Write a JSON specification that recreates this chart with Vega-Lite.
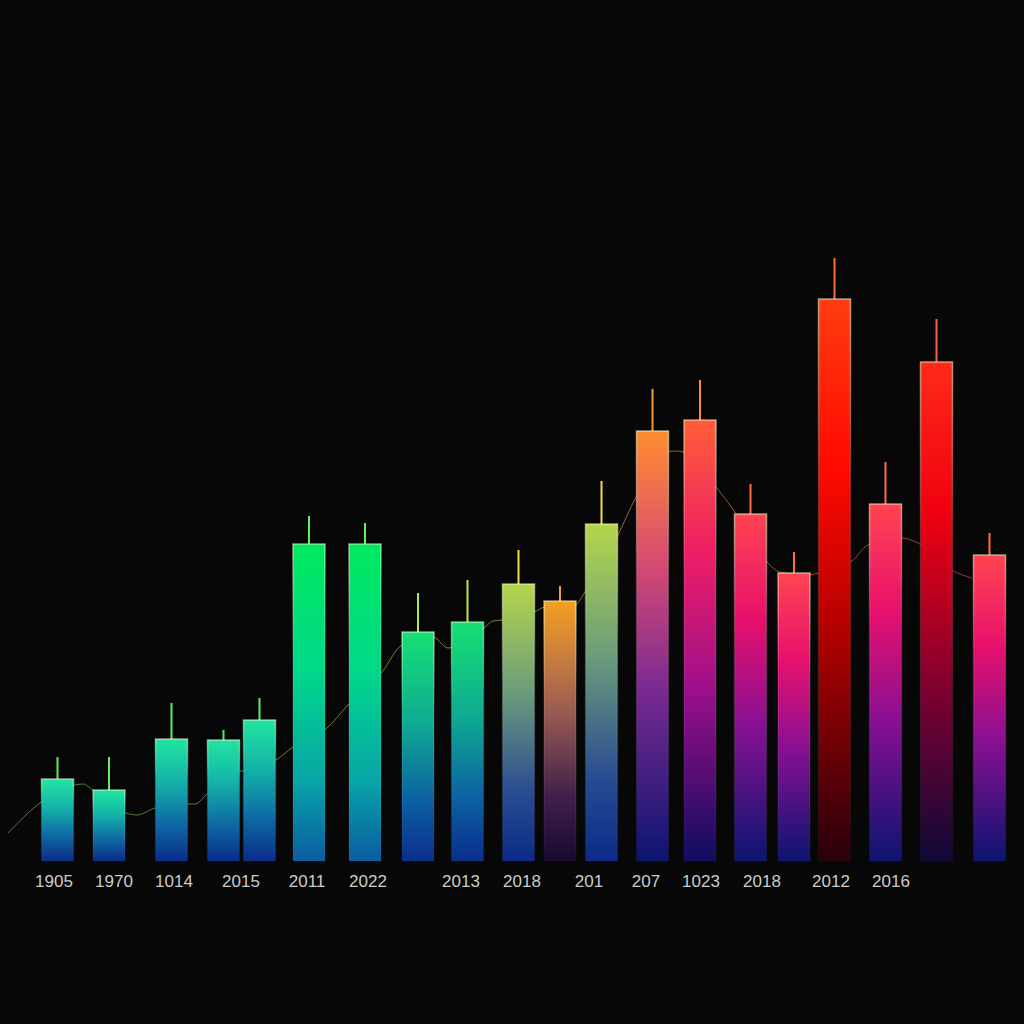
{
  "$schema": "https://vega.github.io/schema/vega-lite/v6.json",
  "width": 1024,
  "height": 1024,
  "padding": 0,
  "autosize": {"type": "none"},
  "background": "#070707",
  "config": {"view": {"stroke": null}},
  "datasets": {
    "bars": [
      {"pos": 57.5, "value": 82, "high": 104, "band": "A"},
      {"pos": 109, "value": 71, "high": 104, "band": "A"},
      {"pos": 171.5, "value": 122, "high": 158, "band": "A"},
      {"pos": 223.5, "value": 121, "high": 131, "band": "A"},
      {"pos": 259.5, "value": 141, "high": 163, "band": "A"},
      {"pos": 309, "value": 317, "high": 345, "band": "B"},
      {"pos": 365, "value": 317, "high": 338, "band": "B"},
      {"pos": 418, "value": 229, "high": 268, "band": "C"},
      {"pos": 467.5, "value": 239, "high": 281, "band": "C"},
      {"pos": 518.5, "value": 277, "high": 311, "band": "D"},
      {"pos": 560, "value": 260, "high": 275, "band": "E"},
      {"pos": 601.5, "value": 337, "high": 380, "band": "D"},
      {"pos": 652.5, "value": 430, "high": 472, "band": "F"},
      {"pos": 700, "value": 441, "high": 481, "band": "J"},
      {"pos": 750.5, "value": 347, "high": 377, "band": "G"},
      {"pos": 794, "value": 288, "high": 309, "band": "G"},
      {"pos": 834.5, "value": 562, "high": 603, "band": "H"},
      {"pos": 885.5, "value": 357, "high": 399, "band": "G"},
      {"pos": 936.5, "value": 499, "high": 542, "band": "I"},
      {"pos": 989.5, "value": 306, "high": 328, "band": "G"}
    ],
    "trend": [
      {"pos": 8, "value": 28}, {"pos": 40, "value": 58}, {"pos": 75, "value": 76},
      {"pos": 83, "value": 77}, {"pos": 93, "value": 71}, {"pos": 126, "value": 48},
      {"pos": 137, "value": 46}, {"pos": 155, "value": 53}, {"pos": 187, "value": 57},
      {"pos": 195, "value": 57}, {"pos": 208, "value": 68}, {"pos": 239, "value": 90},
      {"pos": 243, "value": 90}, {"pos": 276, "value": 101}, {"pos": 293, "value": 114},
      {"pos": 326, "value": 132}, {"pos": 348, "value": 156}, {"pos": 382, "value": 189},
      {"pos": 402, "value": 216}, {"pos": 433, "value": 224}, {"pos": 448, "value": 213},
      {"pos": 484, "value": 233}, {"pos": 493, "value": 240}, {"pos": 502, "value": 241},
      {"pos": 534, "value": 249}, {"pos": 545, "value": 254}, {"pos": 575, "value": 256},
      {"pos": 585, "value": 269}, {"pos": 617, "value": 324}, {"pos": 636, "value": 364},
      {"pos": 668, "value": 409}, {"pos": 675, "value": 410}, {"pos": 683, "value": 409},
      {"pos": 716, "value": 374}, {"pos": 735, "value": 349}, {"pos": 767, "value": 299},
      {"pos": 780, "value": 289}, {"pos": 809, "value": 286}, {"pos": 818, "value": 288},
      {"pos": 852, "value": 300}, {"pos": 868, "value": 316}, {"pos": 902, "value": 323},
      {"pos": 918, "value": 318}, {"pos": 953, "value": 290}, {"pos": 972, "value": 283}
    ],
    "labels": [
      {"pos": 54, "label": "1905"}, {"pos": 114, "label": "1970"},
      {"pos": 174, "label": "1014"}, {"pos": 241, "label": "2015"},
      {"pos": 307, "label": "2011"}, {"pos": 368, "label": "2022"},
      {"pos": 461, "label": "2013"}, {"pos": 522, "label": "2018"},
      {"pos": 589, "label": "201"}, {"pos": 646, "label": "207"},
      {"pos": 701, "label": "1023"}, {"pos": 762, "label": "2018"},
      {"pos": 831, "label": "2012"}, {"pos": 891, "label": "2016"}
    ]
  },
  "layer": [
    {
      "data": {"name": "trend"},
      "mark": {
        "type": "line",
        "interpolate": "monotone",
        "strokeWidth": 1,
        "opacity": 0.75,
        "stroke": {
          "gradient": "linear", "x1": 0, "y1": 0, "x2": 1, "y2": 0,
          "stops": [
            {"offset": 0, "color": "#5a9a60"},
            {"offset": 0.45, "color": "#a0a848"},
            {"offset": 0.65, "color": "#c08040"},
            {"offset": 1, "color": "#c04848"}
          ]
        }
      },
      "encoding": {
        "x": {"field": "pos", "type": "quantitative", "scale": {"domain": [0, 1024], "nice": false, "zero": false, "padding": 0}, "axis": null},
        "y": {"field": "value", "type": "quantitative", "scale": {"domain": [-163, 861], "nice": false, "zero": false, "padding": 0}, "axis": null}
      }
    },
    {
      "data": {"name": "bars"},
      "mark": {"type": "rule", "strokeWidth": 2},
      "encoding": {
        "x": {"field": "pos", "type": "quantitative"},
        "y": {"field": "value", "type": "quantitative"},
        "y2": {"field": "high"},
        "color": {
          "field": "band", "type": "nominal", "legend": null,
          "scale": {
            "domain": ["A", "B", "C", "D", "E", "F", "G", "H", "I", "J"],
            "range": ["#62ee5a", "#66f060", "#b8e848", "#f0e040", "#f0a030", "#ff9a30", "#ff6a40", "#ff6a30", "#ff6040", "#ff8a30"]
          }
        }
      }
    },
    {
      "data": {"name": "bars"},
      "mark": {
        "type": "bar",
        "width": 32,
        "strokeWidth": 1.5,
        "stroke": {
          "gradient": "linear", "x1": 0, "y1": 0, "x2": 0, "y2": 1,
          "stops": [
            {"offset": 0, "color": "rgba(255,255,210,0.55)"},
            {"offset": 0.35, "color": "rgba(255,255,255,0.12)"},
            {"offset": 1, "color": "rgba(255,255,255,0.02)"}
          ]
        }
      },
      "encoding": {
        "x": {"field": "pos", "type": "quantitative"},
        "y": {"field": "value", "type": "quantitative"},
        "y2": {"datum": 0},
        "color": {
          "condition": [
            {"test": "datum.band === 'A'", "value": {"gradient": "linear", "x1": 0, "y1": 0, "x2": 0, "y2": 1, "stops": [
              {"offset": 0, "color": "#22e4a2"}, {"offset": 0.35, "color": "#14b2a8"}, {"offset": 0.7, "color": "#0e68a4"}, {"offset": 1, "color": "#0b2c88"}]}},
            {"test": "datum.band === 'B'", "value": {"gradient": "linear", "x1": 0, "y1": 0, "x2": 0, "y2": 1, "stops": [
              {"offset": 0, "color": "#00ea5e"}, {"offset": 0.4, "color": "#00d88a"}, {"offset": 0.75, "color": "#08a4a8"}, {"offset": 1, "color": "#0a5ca2"}]}},
            {"test": "datum.band === 'C'", "value": {"gradient": "linear", "x1": 0, "y1": 0, "x2": 0, "y2": 1, "stops": [
              {"offset": 0, "color": "#16e074"}, {"offset": 0.4, "color": "#0eaa92"}, {"offset": 0.75, "color": "#0c5ea2"}, {"offset": 1, "color": "#0a2e8c"}]}},
            {"test": "datum.band === 'D'", "value": {"gradient": "linear", "x1": 0, "y1": 0, "x2": 0, "y2": 1, "stops": [
              {"offset": 0, "color": "#b4d64c"}, {"offset": 0.4, "color": "#6a9a7c"}, {"offset": 0.75, "color": "#2a4c92"}, {"offset": 1, "color": "#0c2a88"}]}},
            {"test": "datum.band === 'E'", "value": {"gradient": "linear", "x1": 0, "y1": 0, "x2": 0, "y2": 1, "stops": [
              {"offset": 0, "color": "#f5a022"}, {"offset": 0.4, "color": "#a06052"}, {"offset": 0.75, "color": "#40204a"}, {"offset": 1, "color": "#180a30"}]}},
            {"test": "datum.band === 'F'", "value": {"gradient": "linear", "x1": 0, "y1": 0, "x2": 0, "y2": 1, "stops": [
              {"offset": 0, "color": "#ff8c30"}, {"offset": 0.3, "color": "#d84c72"}, {"offset": 0.6, "color": "#7a2a92"}, {"offset": 1, "color": "#0c1470"}]}},
            {"test": "datum.band === 'J'", "value": {"gradient": "linear", "x1": 0, "y1": 0, "x2": 0, "y2": 1, "stops": [
              {"offset": 0, "color": "#ff5e3a"}, {"offset": 0.3, "color": "#ee1e64"}, {"offset": 0.6, "color": "#a0108a"}, {"offset": 1, "color": "#100c60"}]}},
            {"test": "datum.band === 'G'", "value": {"gradient": "linear", "x1": 0, "y1": 0, "x2": 0, "y2": 1, "stops": [
              {"offset": 0, "color": "#ff4450"}, {"offset": 0.3, "color": "#e8106c"}, {"offset": 0.6, "color": "#8a1092"}, {"offset": 1, "color": "#0c1470"}]}},
            {"test": "datum.band === 'H'", "value": {"gradient": "linear", "x1": 0, "y1": 0, "x2": 0, "y2": 1, "stops": [
              {"offset": 0, "color": "#ff3c10"}, {"offset": 0.3, "color": "#ff0a00"}, {"offset": 0.6, "color": "#b00000"}, {"offset": 1, "color": "#28000c"}]}}
          ],
          "value": {"gradient": "linear", "x1": 0, "y1": 0, "x2": 0, "y2": 1, "stops": [
            {"offset": 0, "color": "#ff2a18"}, {"offset": 0.3, "color": "#f00010"}, {"offset": 0.65, "color": "#800030"}, {"offset": 1, "color": "#100838"}]}
        }
      }
    },
    {
      "mark": {"type": "rule", "strokeWidth": 1.5, "color": "#6aaee8"},
      "encoding": {
        "x": {"datum": 4},
        "x2": {"datum": 1020},
        "y": {"datum": 0}
      }
    },
    {
      "data": {"name": "labels"},
      "mark": {"type": "text", "font": "Liberation Sans", "fontSize": 17, "color": "#cccccc", "baseline": "middle", "align": "center"},
      "encoding": {
        "x": {"field": "pos", "type": "quantitative"},
        "y": {"datum": -21},
        "text": {"field": "label"}
      }
    }
  ]
}
